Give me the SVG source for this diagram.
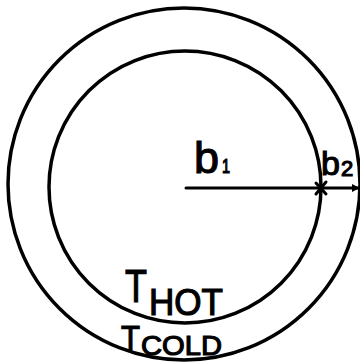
<svg xmlns="http://www.w3.org/2000/svg" width="360" height="364" viewBox="0 0 360 364">
<style>
.c{fill:none;stroke:#000;stroke-width:3.5}
.l{stroke:#000;stroke-width:3;fill:none;stroke-linecap:round}
text{font-family:"Liberation Sans",Arial,sans-serif;fill:#000;stroke:#000;stroke-width:1.2}
</style>
<defs>
<marker id="ah" viewBox="0 0 10 10" refX="9" refY="5" markerWidth="8" markerHeight="8" orient="auto" markerUnits="userSpaceOnUse"><path d="M0,0 L10,5 L0,10 z" fill="#000"/></marker>
</defs>
<rect width="360" height="364" fill="#fff"/>
<g id="outer"><circle class="c" cx="184" cy="184" r="176"/></g>
<g id="inner"><circle class="c" cx="185" cy="187" r="136"/></g>
<g id="connectors">
<line class="l" x1="186" y1="188" x2="320" y2="188"/>
<line class="l" x1="323" y1="188" x2="359" y2="188" marker-end="url(#ah)"/>
<path class="l" d="M316,183 L326,194 M326,182 L316,194" stroke-width="2.5"/>
</g>
<g id="b1"><text x="194" y="173" font-size="45">b</text><text x="222" y="173" font-size="20" textLength="8" lengthAdjust="spacingAndGlyphs">1</text></g>
<g id="b2"><text x="321" y="175" font-size="34">b</text><text x="341" y="176" font-size="22">2</text></g>
<g id="thot"><text x="125" y="302" font-size="47" textLength="22" lengthAdjust="spacingAndGlyphs">T</text><text x="149" y="315" font-size="37" textLength="74" lengthAdjust="spacingAndGlyphs">HOT</text></g>
<g id="tcold"><text x="121" y="350" font-size="35" textLength="19" lengthAdjust="spacingAndGlyphs">T</text><text x="141" y="355" font-size="28" textLength="81" lengthAdjust="spacingAndGlyphs">COLD</text></g>
</svg>
